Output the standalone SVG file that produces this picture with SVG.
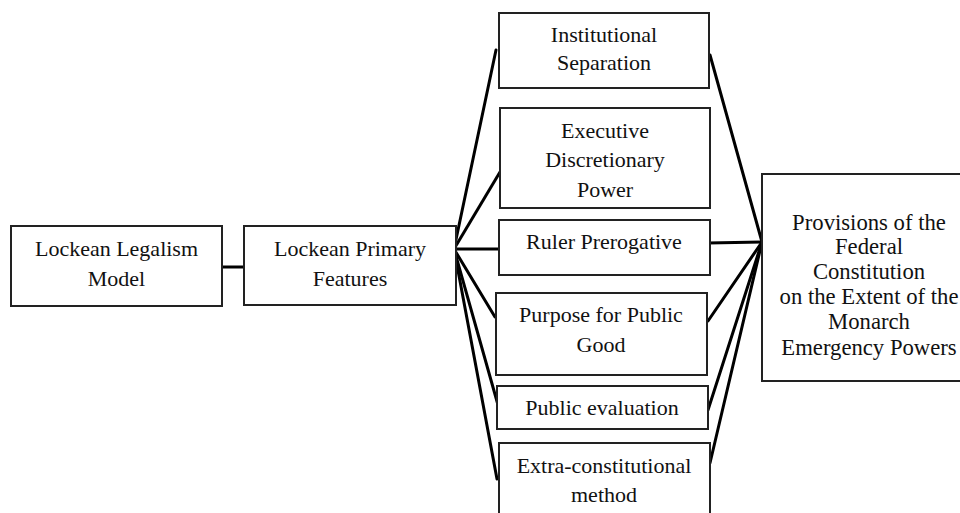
<svg xmlns="http://www.w3.org/2000/svg" width="960" height="513" viewBox="0 0 960 513">
<style>
.box{fill:#fff;stroke:#222;stroke-width:2}
.t{font-family:'Liberation Serif','Times New Roman',serif;font-size:22px;fill:#111;text-anchor:middle}
.p{font-size:22.7px}
.c{stroke:#000;stroke-width:3;fill:none;stroke-linecap:round}
</style>
<rect width="960" height="513" fill="#fff"/>
<g id="connectors">
<line class="c" x1="222" y1="267" x2="244" y2="267"/>
<line class="c" x1="454" y1="249" x2="496" y2="50"/>
<line class="c" x1="454" y1="249" x2="500" y2="172"/>
<line class="c" x1="454" y1="249" x2="499" y2="249"/>
<line class="c" x1="454" y1="249" x2="495" y2="317"/>
<line class="c" x1="454" y1="249" x2="498" y2="405"/>
<line class="c" x1="454" y1="249" x2="497" y2="479"/>
<line class="c" x1="710" y1="55" x2="762" y2="242"/>
<line class="c" x1="708" y1="243" x2="762" y2="242"/>
<line class="c" x1="708" y1="321" x2="762" y2="242"/>
<line class="c" x1="708" y1="410" x2="762" y2="242"/>
<line class="c" x1="710" y1="463" x2="762" y2="242"/>
</g>
<g id="n1"><rect class="box" x="11" y="226" width="211" height="80"/>
<text class="t" x="116.5" y="256">Lockean Legalism</text><text class="t" x="116.5" y="286">Model</text></g>
<g id="n2"><rect class="box" x="244" y="226" width="212" height="79"/>
<text class="t" x="350" y="256">Lockean Primary</text><text class="t" x="350" y="286">Features</text></g>
<g id="n3"><rect class="box" x="499" y="13" width="210" height="75"/>
<text class="t" x="604" y="42">Institutional</text><text class="t" x="604" y="70">Separation</text></g>
<g id="n4"><rect class="box" x="500" y="108" width="210" height="100"/>
<text class="t" x="605" y="138">Executive</text><text class="t" x="605" y="167">Discretionary</text><text class="t" x="605" y="197">Power</text></g>
<g id="n5"><rect class="box" x="499" y="220" width="211" height="55"/>
<text class="t" x="604" y="249">Ruler Prerogative</text></g>
<g id="n6"><rect class="box" x="496" y="293" width="211" height="82"/>
<text class="t" x="601" y="322">Purpose for Public</text><text class="t" x="601" y="352">Good</text></g>
<g id="n7"><rect class="box" x="497" y="386" width="211" height="43"/>
<text class="t" x="602" y="415">Public evaluation</text></g>
<g id="n8"><rect class="box" x="499" y="443" width="211" height="75"/>
<text class="t" x="604" y="473">Extra-constitutional</text><text class="t" x="604" y="502">method</text></g>
<g id="n9"><rect class="box" x="762" y="174" width="200" height="207"/>
<text class="t p" x="869" y="230">Provisions of the</text><text class="t p" x="869" y="254">Federal</text><text class="t p" x="869" y="279">Constitution</text><text class="t p" x="869" y="304">on the Extent of the</text><text class="t p" x="869" y="329">Monarch</text><text class="t p" x="869" y="355">Emergency Powers</text></g>
</svg>
